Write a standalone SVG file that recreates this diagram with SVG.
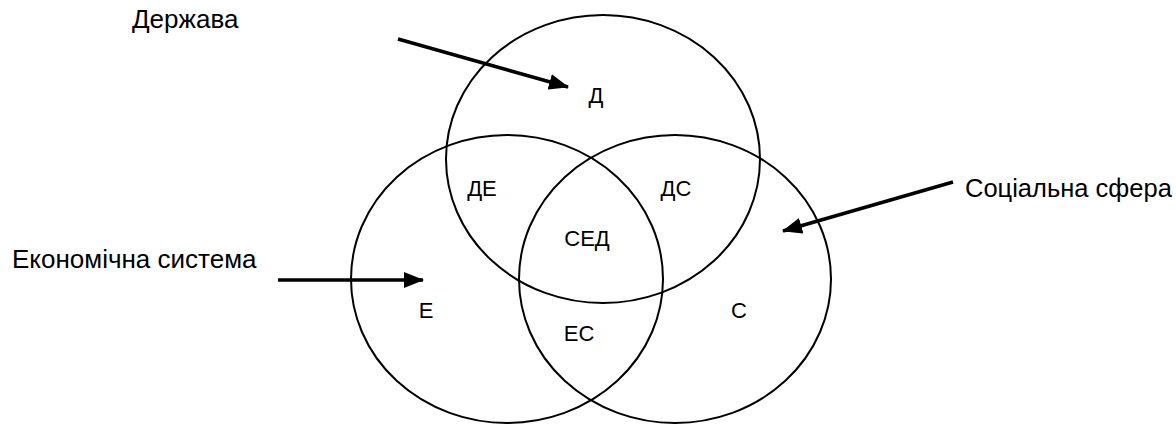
<svg xmlns="http://www.w3.org/2000/svg" width="1176" height="426" viewBox="0 0 1176 426">
<defs>
<style>
.c{fill:none;stroke:#000;stroke-width:2}
.a{stroke:#000;stroke-width:3.5;fill:none;marker-end:url(#ah)}
.t{font-family:"Liberation Sans",Arial,sans-serif;font-size:26px;fill:#000}
.l{font-family:"Liberation Sans",Arial,sans-serif;font-size:22px;fill:#000;text-anchor:middle}
</style>
<marker id="ah" markerUnits="userSpaceOnUse" markerWidth="20" markerHeight="16" refX="19" refY="8" orient="auto">
<path d="M0,0 L20,8 L0,16 z" fill="#000"/>
</marker>
</defs>
<g id="circle-D"><ellipse class="c" cx="603" cy="159" rx="157" ry="144"/></g>
<g id="circle-E"><ellipse class="c" cx="507" cy="279" rx="156" ry="144"/></g>
<g id="circle-C"><ellipse class="c" cx="675" cy="279" rx="156" ry="144"/></g>
<g id="labels">
<text class="l" x="596" y="103">Д</text>
<text class="l" x="482" y="196">ДЕ</text>
<text class="l" x="676" y="196">ДС</text>
<text class="l" x="587" y="246">СЕД</text>
<text class="l" x="426" y="318">Е</text>
<text class="l" x="579" y="341">ЕС</text>
<text class="l" x="739" y="318">С</text>
</g>
<g id="node-derzhava"><text class="t" x="132" y="28">Держава</text></g>
<g id="node-ekonomichna"><text class="t" x="12" y="268">Економічна система</text></g>
<g id="node-sotsialna"><text class="t" x="965" y="197" style="font-size:25.5px">Соціальна сфера</text></g>
<g id="connectors">
<line class="a" x1="398" y1="39" x2="568" y2="87"/>
<line class="a" x1="953" y1="182" x2="783" y2="231"/>
<line class="a" x1="278" y1="280" x2="423" y2="280"/>
</g>
</svg>
